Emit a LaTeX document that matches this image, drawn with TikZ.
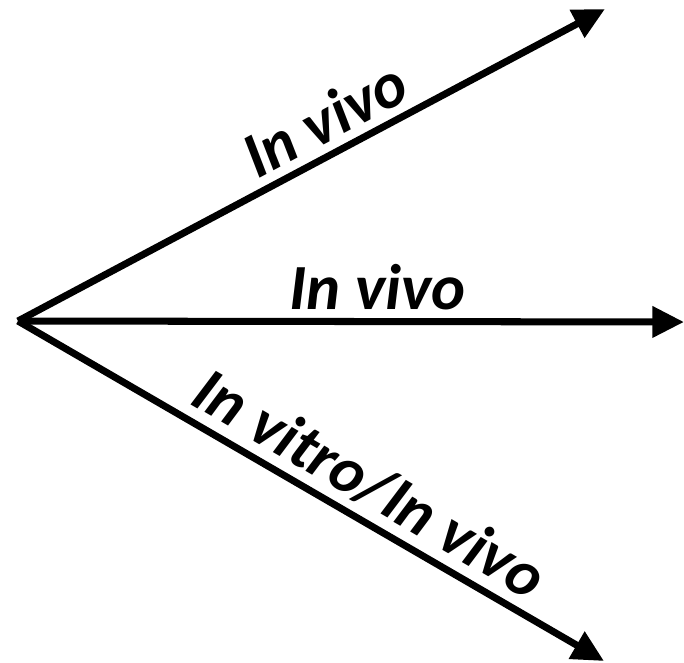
\documentclass[tikz,border=0pt]{standalone}
\usepackage{fontspec}
\setmainfont{Carlito}
\usetikzlibrary{arrows.meta}

\tikzset{
    ray/.style={line width=6pt, -{Triangle[length=0.95cm, width=0.9cm]}},
    raylabel/.style={font=\fontsize{55}{64}\selectfont\bfseries\itshape, sloped, above, inner sep=7pt}
}

\begin{document}
\begin{tikzpicture}[x=0.03cm, y=-0.03cm]

    % ============================================================
    % FRAME
    % ============================================================
    \useasboundingbox (0,0) rectangle (684,662);

    % ============================================================
    % ORIGIN AND END POINTS
    % ============================================================
    \coordinate (origin) at (18,321);
    \coordinate (upper) at (605,9);
    \coordinate (middle) at (684,322);
    \coordinate (lower) at (604,661);

    % ============================================================
    % RAYS
    % ============================================================
    \draw[ray] (origin) -- node[raylabel, pos=0.55] (uplabel) {In vivo} (upper);
    \draw[ray] (origin) -- node[raylabel, pos=0.54] (midlabel) {In vivo} (middle);
    \draw[ray] (origin) -- node[raylabel, pos=0.57] (lowlabel) {In vitro/In vivo} (lower);

\end{tikzpicture}
\end{document}
